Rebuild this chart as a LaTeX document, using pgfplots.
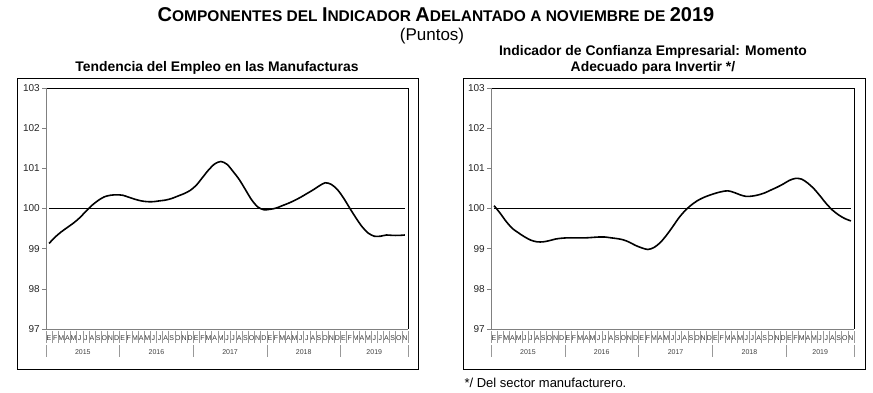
\documentclass[border=0pt]{standalone}
\usepackage{pgfplots}
\pgfplotsset{compat=1.18}
\usepackage{pgfplotstable}
\usepackage{fontspec}
\setmainfont{Liberation Sans}
\usetikzlibrary{calc}

\pgfplotstableread{
x y
0.5 99.13
1.5 99.29
2.5 99.42
3.5 99.53
4.5 99.64
5.5 99.77
6.5 99.93
7.5 100.08
8.5 100.20
9.5 100.29
10.5 100.33
11.5 100.34
12.5 100.33
13.5 100.28
14.5 100.23
15.5 100.19
16.5 100.17
17.5 100.17
18.5 100.19
19.5 100.21
20.5 100.25
21.5 100.31
22.5 100.37
23.5 100.45
24.5 100.58
25.5 100.77
26.5 100.96
27.5 101.11
28.5 101.17
29.5 101.10
30.5 100.92
31.5 100.72
32.5 100.47
33.5 100.22
34.5 100.04
35.5 99.97
36.5 99.98
37.5 100.01
38.5 100.07
39.5 100.13
40.5 100.20
41.5 100.28
42.5 100.37
43.5 100.46
44.5 100.56
45.5 100.64
46.5 100.60
47.5 100.47
48.5 100.26
49.5 100.01
50.5 99.77
51.5 99.55
52.5 99.39
53.5 99.31
54.5 99.31
55.5 99.34
56.5 99.33
57.5 99.33
58.5 99.34
}\empleo

\pgfplotstableread{
x y
0.5 100.07
1.5 99.88
2.5 99.67
3.5 99.50
4.5 99.39
5.5 99.29
6.5 99.21
7.5 99.17
8.5 99.17
9.5 99.20
10.5 99.24
11.5 99.26
12.5 99.27
13.5 99.27
14.5 99.27
15.5 99.27
16.5 99.28
17.5 99.29
18.5 99.29
19.5 99.27
20.5 99.25
21.5 99.22
22.5 99.16
23.5 99.08
24.5 99.02
25.5 98.98
26.5 99.03
27.5 99.15
28.5 99.33
29.5 99.54
30.5 99.76
31.5 99.94
32.5 100.08
33.5 100.19
34.5 100.27
35.5 100.33
36.5 100.38
37.5 100.42
38.5 100.44
39.5 100.40
40.5 100.34
41.5 100.30
42.5 100.31
43.5 100.34
44.5 100.39
45.5 100.46
46.5 100.53
47.5 100.61
48.5 100.70
49.5 100.75
50.5 100.73
51.5 100.63
52.5 100.49
53.5 100.31
54.5 100.12
55.5 99.96
56.5 99.84
57.5 99.75
58.5 99.69
}\confianza

\pgfplotstableread{
x y
0.5 100
58.5 100
}\refline

\pgfplotsset{
  panel/.style={
    scale only axis, height=241pt,
    xmin=0, xmax=59, ymin=97, ymax=103,
    ytick={97,...,103}, ytick pos=left,
    axis line style={draw=none},
    tick align=outside, major tick length=4pt,
    ytick style={gray, line width=0.6pt},
    yticklabel style={font=\fontsize{10}{11}\selectfont, text=black!85, inner sep=2pt},
    xtick={0.5,1.5,...,58.5}, xtick pos=bottom,
    x tick style={draw=none},
    xticklabels={E,F,M,A,M,J,J,A,S,O,N,D,E,F,M,A,M,J,J,A,S,O,N,D,E,F,M,A,M,J,J,A,S,O,N,D,E,F,M,A,M,J,J,A,S,O,N,D,E,F,M,A,M,J,J,A,S,O,N},
    xticklabel style={font=\fontsize{7}{8}\selectfont, text=black!80, inner sep=1pt, yshift=-1pt},
    /pgf/number format/assume math mode=true,
    clip=false,
  },
  decor/.code={%
    \draw[black, line width=0.6pt] (axis cs:0,103) -- (axis cs:59,103) -- (axis cs:59,97);
    \draw[gray, line width=0.6pt] (axis cs:0,103) -- (axis cs:0,97) -- (axis cs:59,97);
  }
}

\newcommand{\sepmarks}{%
  \pgfplotsinvokeforeach{0,...,59}{\draw[gray!80, line width=0.5pt] (axis cs:##1,97) ++(0pt,-2pt) -- ++(0pt,-12pt);}
  \pgfplotsinvokeforeach{0,12,24,36,48,59}{\draw[gray!80, line width=0.5pt] (axis cs:##1,97) ++(0pt,-16pt) -- ++(0pt,-12pt);}
  \pgfplotsinvokeforeach{2015,2016,2017,2018}{\node[font=\fontsize{7}{8}\selectfont, text=black!75] at ($(axis cs:{(##1-2015)*12+6},97)+(0pt,-23pt)$) {##1};}
  \node[font=\fontsize{7}{8}\selectfont, text=black!75] at ($(axis cs:53.5,97)+(0pt,-23pt)$) {2019};
}

\begin{document}
\begin{tikzpicture}
\useasboundingbox (0pt,0pt) rectangle (873pt,393pt);
\fill[white] (0pt,0pt) rectangle (873pt,393pt);

% frames
\draw[black, line width=0.8pt] (17pt,24pt) rectangle (418pt,315pt);
\draw[black, line width=0.8pt] (463pt,24pt) rectangle (865pt,315pt);

% main title
\node[font=\bfseries] at (436pt,378pt) {\fontsize{20}{22}\selectfont C\fontsize{15.5}{17}\selectfont OMPONENTES DEL \fontsize{20}{22}\selectfont I\fontsize{15.5}{17}\selectfont NDICADOR \fontsize{20}{22}\selectfont A\fontsize{15.5}{17}\selectfont DELANTADO A NOVIEMBRE DE \fontsize{20}{22}\selectfont 2019};
\node[font=\fontsize{17}{19}\selectfont] at (432pt,357pt) {(Puntos)};

% panel titles
\node[font=\bfseries\fontsize{13.9}{15.5}\selectfont] at (217pt,325pt) {Tendencia del Empleo en las Manufacturas};
\node[font=\bfseries\fontsize{13.9}{15.5}\selectfont, align=center] at (653pt,333pt) {Indicador de Confianza Empresarial: Momento\\Adecuado para Invertir */};

\node[font=\fontsize{13}{15}\selectfont, anchor=west] at (461pt,10pt) {*/ Del sector manufacturero.};

\begin{axis}[panel, width=362pt, at={(46pt,64pt)}, anchor=south west]
\pgfkeys{/pgfplots/decor}
\addplot[black, line width=0.9pt] table[x=x,y=y] {\refline};
\addplot[black, line width=1.6pt, smooth] table[x=x,y=y] {\empleo};
\sepmarks
\end{axis}

\begin{axis}[panel, width=363pt, at={(491pt,64pt)}, anchor=south west]
\pgfkeys{/pgfplots/decor}
\addplot[black, line width=0.9pt] table[x=x,y=y] {\refline};
\addplot[black, line width=1.6pt, smooth] table[x=x,y=y] {\confianza};
\sepmarks
\end{axis}
\end{tikzpicture}
\end{document}
